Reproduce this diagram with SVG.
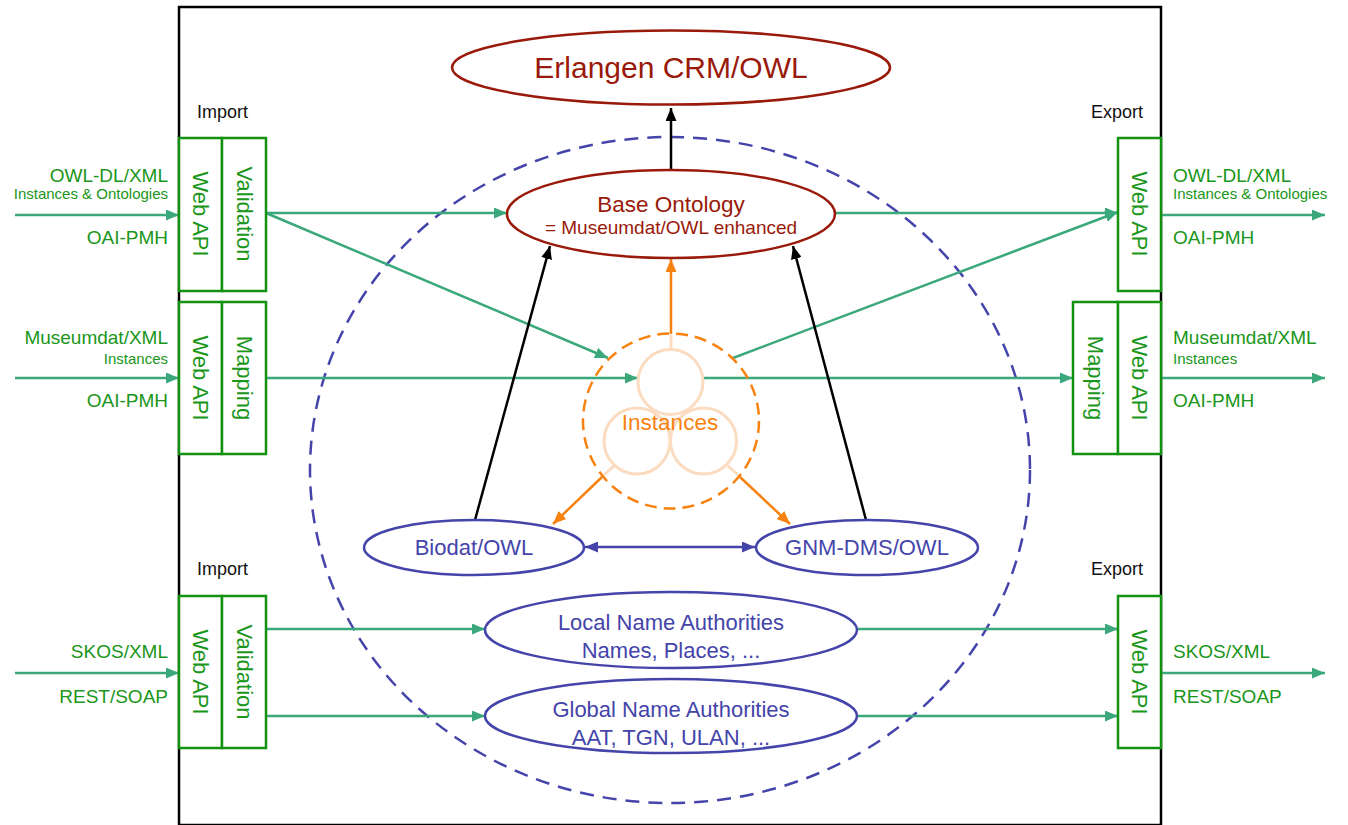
<svg xmlns="http://www.w3.org/2000/svg" width="1348" height="825" viewBox="0 0 1348 825">
<defs>
<style>
text{font-family:"Liberation Sans",Arial,sans-serif}
.box{fill:#fff;stroke:#139113;stroke-width:2.5}
.vt{fill:#1a961a;font-size:22px;text-anchor:middle;dominant-baseline:central}
.gl{fill:#1a961a;font-size:19px}
.gs{fill:#1a961a;font-size:15px}
.ie{fill:#111;font-size:18px}
.red{fill:#fff;stroke:#991a0a;stroke-width:2.5}
.redt{fill:#991a0a;text-anchor:middle}
.blue{fill:#fff;stroke:#4444aa;stroke-width:2.5}
.bluet{fill:#4444aa;text-anchor:middle;font-size:22px}
.g{stroke:#3aa87a;stroke-width:2.5;fill:none;marker-end:url(#ag)}
.k{stroke:#000;stroke-width:2.5;fill:none;marker-end:url(#ak)}
.o{stroke:#f8820f;stroke-width:2.5;fill:none;marker-end:url(#ao)}
.peach{fill:none;stroke:#fbdcc0;stroke-width:3}
</style>
<marker id="ag" markerUnits="userSpaceOnUse" markerWidth="13" markerHeight="11" refX="13" refY="5.5" orient="auto"><path d="M0,0 L13,5.5 L0,11 z" fill="#3aa87a"/></marker>
<marker id="ak" markerUnits="userSpaceOnUse" markerWidth="13" markerHeight="11" refX="13" refY="5.5" orient="auto"><path d="M0,0 L13,5.5 L0,11 z" fill="#000"/></marker>
<marker id="ao" markerUnits="userSpaceOnUse" markerWidth="13" markerHeight="11" refX="13" refY="5.5" orient="auto"><path d="M0,0 L13,5.5 L0,11 z" fill="#f8820f"/></marker>
<marker id="ab" markerUnits="userSpaceOnUse" markerWidth="13" markerHeight="11" refX="13" refY="5.5" orient="auto-start-reverse"><path d="M0,0 L13,5.5 L0,11 z" fill="#4444aa"/></marker>
</defs>
<rect width="1348" height="825" fill="#fff"/>
<rect id="frame" x="179" y="7" width="982" height="818" fill="none" stroke="#000" stroke-width="2.5"/>
<ellipse id="scope" cx="670" cy="470" rx="360" ry="333" fill="none" stroke="#4444aa" stroke-width="2.5" stroke-dasharray="14 9"/>

<g id="labels">
<text class="ie" x="197" y="118">Import</text>
<text class="ie" x="1091" y="118">Export</text>
<text class="ie" x="197" y="575">Import</text>
<text class="ie" x="1091" y="575">Export</text>
<g text-anchor="end">
<text class="gl" x="168" y="182">OWL-DL/XML</text>
<text class="gs" x="168" y="199">Instances &amp; Ontologies</text>
<text class="gl" x="168" y="244">OAI-PMH</text>
<text class="gl" x="168" y="344">Museumdat/XML</text>
<text class="gs" x="168" y="364">Instances</text>
<text class="gl" x="168" y="407">OAI-PMH</text>
<text class="gl" x="168" y="658">SKOS/XML</text>
<text class="gl" x="168" y="703">REST/SOAP</text>
</g>
<text class="gl" x="1173" y="182">OWL-DL/XML</text>
<text class="gs" x="1173" y="199">Instances &amp; Ontologies</text>
<text class="gl" x="1173" y="244">OAI-PMH</text>
<text class="gl" x="1173" y="344">Museumdat/XML</text>
<text class="gs" x="1173" y="364">Instances</text>
<text class="gl" x="1173" y="407">OAI-PMH</text>
<text class="gl" x="1173" y="658">SKOS/XML</text>
<text class="gl" x="1173" y="703">REST/SOAP</text>
</g>

<g id="connectors">
<line class="g" x1="15" y1="215" x2="179" y2="215"/>
<line class="g" x1="15" y1="378" x2="179" y2="378"/>
<line class="g" x1="15" y1="673" x2="179" y2="673"/>
<line class="g" x1="1161" y1="215" x2="1325" y2="215"/>
<line class="g" x1="1161" y1="378" x2="1325" y2="378"/>
<line class="g" x1="1161" y1="673" x2="1325" y2="673"/>
<line class="g" x1="266" y1="213" x2="507" y2="213"/>
<line class="g" x1="266" y1="213" x2="608" y2="358"/>
<line class="g" x1="266" y1="378" x2="638" y2="378"/>
<line class="g" x1="703" y1="378" x2="1073" y2="378"/>
<line class="g" x1="733" y1="358" x2="1118" y2="212"/>
<line class="g" x1="835" y1="213" x2="1118" y2="213"/>
<line class="g" x1="266" y1="629" x2="485" y2="629"/>
<line class="g" x1="266" y1="716" x2="485" y2="716"/>
<line class="g" x1="857" y1="629" x2="1118" y2="629"/>
<line class="g" x1="857" y1="716" x2="1118" y2="716"/>
<line class="k" x1="671" y1="170" x2="671" y2="108"/>
<line class="k" x1="475" y1="520" x2="550" y2="246"/>
<line class="k" x1="866" y1="520" x2="793" y2="246"/>
<line class="o" x1="671" y1="334" x2="671" y2="259"/>
<line class="o" x1="602" y1="477" x2="553" y2="524"/>
<line class="o" x1="740" y1="477" x2="790" y2="524"/>
<line x1="585" y1="547" x2="755" y2="547" stroke="#4444aa" stroke-width="2.5" marker-start="url(#ab)" marker-end="url(#ab)"/>
</g>

<g id="import-top">
<rect class="box" x="179" y="138" width="43" height="153"/>
<rect class="box" x="222" y="138" width="44" height="153"/>
<text class="vt" transform="translate(200.5,214) rotate(90)">Web API</text>
<text class="vt" transform="translate(244,214) rotate(90)">Validation</text>
</g>
<g id="import-mid">
<rect class="box" x="179" y="302" width="43" height="152"/>
<rect class="box" x="222" y="302" width="44" height="152"/>
<text class="vt" transform="translate(200.5,378) rotate(90)">Web API</text>
<text class="vt" transform="translate(244,378) rotate(90)">Mapping</text>
</g>
<g id="import-bottom">
<rect class="box" x="179" y="596" width="43" height="152"/>
<rect class="box" x="222" y="596" width="44" height="152"/>
<text class="vt" transform="translate(200.5,672) rotate(90)">Web API</text>
<text class="vt" transform="translate(244,672) rotate(90)">Validation</text>
</g>
<g id="export-top">
<rect class="box" x="1118" y="138" width="43" height="153"/>
<text class="vt" transform="translate(1139.5,214) rotate(90)">Web API</text>
</g>
<g id="export-mid">
<rect class="box" x="1073" y="302" width="45" height="152"/>
<rect class="box" x="1118" y="302" width="43" height="152"/>
<text class="vt" transform="translate(1095.5,378) rotate(90)">Mapping</text>
<text class="vt" transform="translate(1139.5,378) rotate(90)">Web API</text>
</g>
<g id="export-bottom">
<rect class="box" x="1118" y="596" width="43" height="152"/>
<text class="vt" transform="translate(1139.5,672) rotate(90)">Web API</text>
</g>

<g id="erlangen">
<ellipse class="red" cx="671" cy="67.5" rx="219" ry="37"/>
<text class="redt" x="671" y="78" font-size="30">Erlangen CRM/OWL</text>
</g>
<g id="base-ontology">
<ellipse class="red" cx="671" cy="214" rx="164" ry="44"/>
<text class="redt" x="671" y="212" font-size="22.5">Base Ontology</text>
<text class="redt" x="671" y="234" font-size="19">= Museumdat/OWL enhanced</text>
</g>
<g id="instances">
<line class="peach" x1="671" y1="335" x2="671" y2="350"/>
<line class="peach" x1="604" y1="475" x2="614" y2="466"/>
<line class="peach" x1="738" y1="475" x2="728" y2="466"/>
<circle class="peach" cx="670.5" cy="382" r="32.5"/>
<circle class="peach" cx="637" cy="441" r="33"/>
<circle class="peach" cx="703.5" cy="441" r="33"/>
<ellipse cx="671" cy="421" rx="88" ry="87.5" fill="none" stroke="#f8820f" stroke-width="2.5" stroke-dasharray="12 7"/>
<text x="670" y="430" fill="#f8820f" font-size="22.5" text-anchor="middle">Instances</text>
</g>
<g id="biodat">
<ellipse class="blue" cx="474" cy="547.5" rx="110" ry="27.5"/>
<text class="bluet" x="474" y="555">Biodat/OWL</text>
</g>
<g id="gnm">
<ellipse class="blue" cx="867" cy="547.5" rx="111" ry="27.5"/>
<text class="bluet" x="867" y="555">GNM-DMS/OWL</text>
</g>
<g id="local-na">
<ellipse class="blue" cx="671" cy="630" rx="186" ry="38"/>
<text class="bluet" x="671" y="630">Local Name Authorities</text>
<text class="bluet" x="671" y="658">Names, Places, ...</text>
</g>
<g id="global-na">
<ellipse class="blue" cx="671" cy="716" rx="186" ry="37"/>
<text class="bluet" x="671" y="717">Global Name Authorities</text>
<text class="bluet" x="671" y="745">AAT, TGN, ULAN, ...</text>
</g>
</svg>
